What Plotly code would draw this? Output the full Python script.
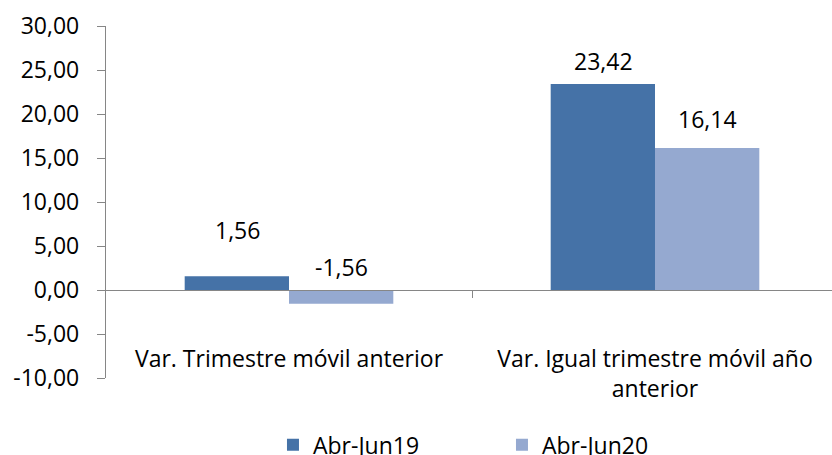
import plotly.graph_objects as go

# Datos
categorias = ["Var. Trimestre móvil anterior", "Var. Igual trimestre móvil año<br>anterior"]
series = ["Abr-Jun19", "Abr-Jun20"]
abr_jun19 = [1.56, 23.42]
abr_jun20 = [-1.56, 16.14]
y_ticks = [-10, -5, 0, 5, 10, 15, 20, 25, 30]

# Estilo
colores = ["#4572A7", "#95A9D0"]
FUENTE = "Open Sans"
TAM = 23
lift_19 = [46, 23]   # px sobre el extremo de la barra
lift_20 = [37, 29]


def fmt(v):
    return f"{v:.2f}".replace(".", ",")


x_idx = list(range(len(categorias)))

fig = go.Figure()
for nombre, valores, color in zip(series, [abr_jun19, abr_jun20], colores):
    fig.add_trace(go.Bar(
        x=x_idx, y=valores, name=nombre,
        marker=dict(color=color, line=dict(width=0)),
        xaxis="x", yaxis="y",
    ))

# etiquetas de datos
ancho_barra = 104
for valores, lifts, signo in [(abr_jun19, lift_19, -1), (abr_jun20, lift_20, 1)]:
    for i, v in enumerate(valores):
        fig.add_annotation(
            x=i, y=v, xref="x", yref="y", text=fmt(v), showarrow=False,
            xshift=signo * ancho_barra / 2, yshift=lifts[i],
            yanchor="middle", xanchor="center",
            font=dict(family=FUENTE, size=TAM, color="black"),
        )

rango_x = [-0.5, -0.5 + 726 / 366]

fig.update_layout(
    width=832, height=455,
    margin=dict(l=106, r=0, t=26, b=77, autoexpand=False),
    paper_bgcolor="white", plot_bgcolor="white",
    barmode="group", bargap=0.43, bargroupgap=0,
    font=dict(family=FUENTE, size=TAM, color="black"),
    showlegend=True,
    legend=dict(orientation="h", x=0.23, xanchor="left", y=-0.19, yanchor="middle",
                font=dict(family=FUENTE, size=TAM), entrywidth=184, itemwidth=30,
                tracegroupgap=0),
    xaxis=dict(
        range=rango_x, tickvals=x_idx, ticktext=categorias,
        showline=False, ticks="", showgrid=False, zeroline=False,
        anchor="free", position=0.1, automargin=False,
        tickfont=dict(family=FUENTE, size=TAM),
    ),
    xaxis2=dict(
        range=rango_x, overlaying="x", anchor="free", position=0.25,
        tickvals=[0.5], showticklabels=False, ticks="outside", ticklen=7,
        tickcolor="#868686", showline=True, linecolor="#868686", linewidth=1.3,
        showgrid=False, zeroline=False, automargin=False,
    ),
    yaxis=dict(
        range=[-10, 30], tickvals=y_ticks, ticktext=[fmt(t) for t in y_ticks],
        showline=True, linecolor="#868686", linewidth=1.3,
        ticks="outside", ticklen=8, tickcolor="#868686",
        showgrid=False, zeroline=False, ticklabelstandoff=13, automargin=False,
        tickfont=dict(family=FUENTE, size=TAM),
    ),
)
# traza invisible para activar xaxis2
fig.add_trace(go.Scatter(x=[0.5], y=[0], xaxis="x2", yaxis="y", mode="markers",
                         marker=dict(opacity=0), showlegend=False, hoverinfo="skip"))

fig.write_html("out.html", config={"displayModeBar": False},
               post_script="document.body.style.margin='0';")
